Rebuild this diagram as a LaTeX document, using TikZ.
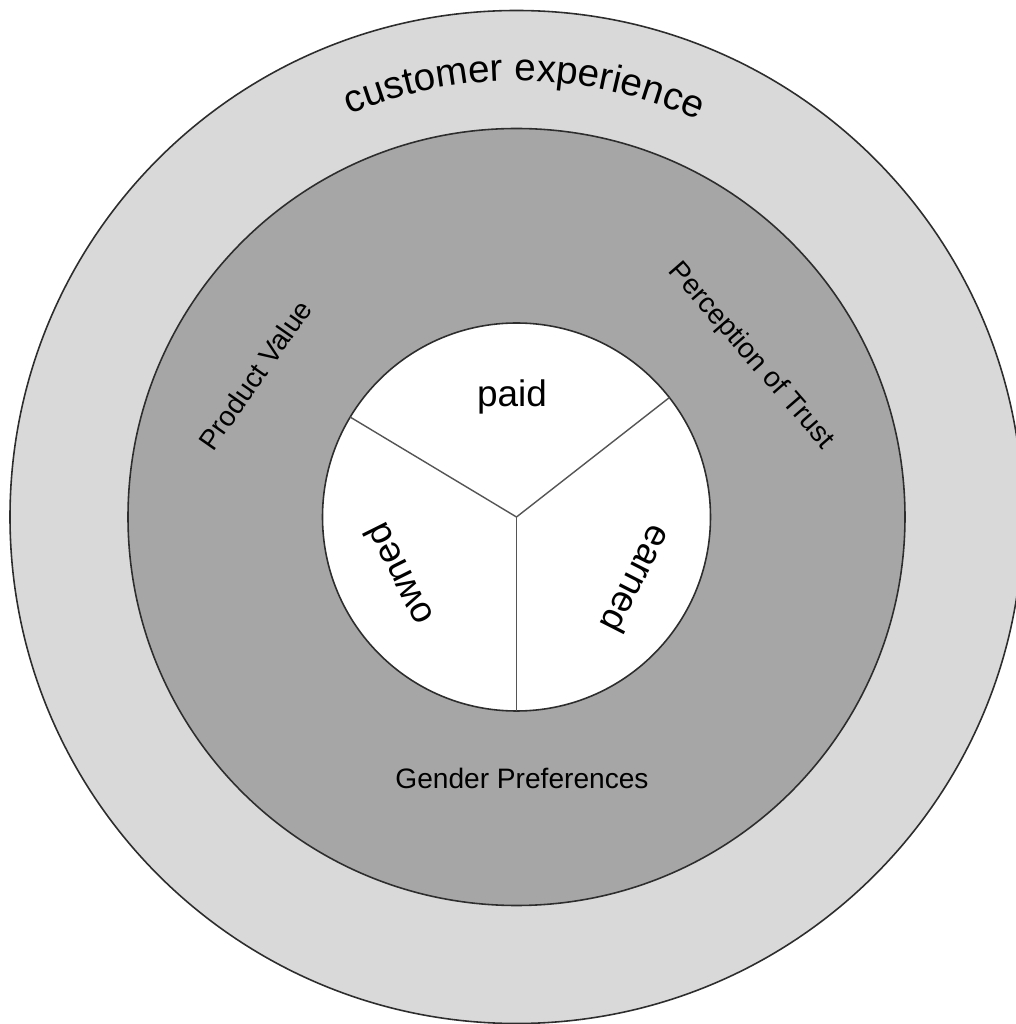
\documentclass[tikz,border=0pt]{standalone}
\usepackage{fontspec}
\setmainfont{Liberation Sans}
\usetikzlibrary{calc,decorations.text}
\definecolor{outerring}{RGB}{217,217,217}
\definecolor{middlering}{RGB}{166,166,166}
\definecolor{edgegray}{RGB}{45,45,45}
\definecolor{splitgray}{RGB}{85,85,85}
\newcommand{\ringfont}{\fontsize{8}{9.6}\selectfont}
\newcommand{\corefont}{\fontsize{10.5}{12.6}\selectfont}
\newcommand{\rimfont}{\fontsize{11}{13.2}\selectfont}
\tikzset{
  ringedge/.style={draw=edgegray,line width=0.45pt},
  splitline/.style={draw=splitgray,line width=0.4pt},
  ringlabel/.style={inner sep=0pt,font=\ringfont},
  corelabel/.style={inner sep=0pt,font=\corefont}
}
\begin{document}
\begin{tikzpicture}
\useasboundingbox (0,0) rectangle (10.16,10.24);
\coordinate (hub) at (5.165,5.07);
% rings
\draw[ringedge,fill=outerring] (hub) circle (5.065);
\draw[ringedge,fill=middlering] (hub) circle (3.885);
\draw[ringedge,fill=white] (hub) circle (1.94);
\foreach \ang in {149,38,270}
  \draw[splitline] (hub) -- ++(\ang:1.94);
% outer ring text
\path[decorate,decoration={text along path,text={|\rimfont|customer experience},text align=center}]
  ($(hub)+(149:4.36)$) arc (149:29:4.36);
% middle ring
\node[ringlabel,rotate=55] (value) at (2.55,6.49) {Product Value};
\node[ringlabel,rotate=-49] (trust) at (7.51,6.68) {Perception of Trust};
\node[ringlabel] (gender) at (5.22,2.46) {Gender Preferences};
% core
\node[corelabel] (paid) at (5.12,6.275) {paid};
\node[corelabel,rotate=116.5] (owned) at (3.98,4.49) {owned};
\node[corelabel,rotate=-117] (earned) at (6.375,4.44) {earned};
\end{tikzpicture}
\end{document}
